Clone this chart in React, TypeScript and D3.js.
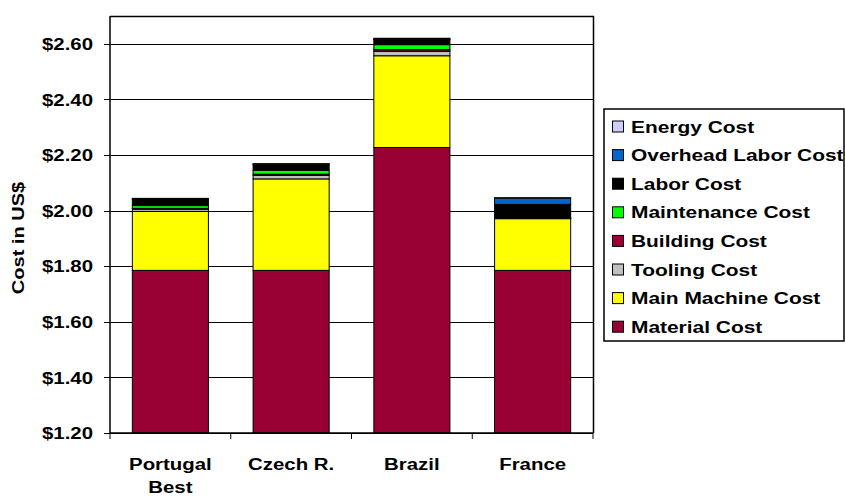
import React from "react";
import * as d3 from "d3";

// Countries along the category axis (line breaks split multi-line labels)
const categories = ["Portugal\nBest", "Czech R.", "Brazil", "France"];

// Cost components in US$, stacked bottom to top
const materialCost = [1.785, 1.785, 2.227, 1.785];
const mainMachineCost = [0.212, 0.329, 0.33, 0.186];
const toolingCost = [0.008, 0.013, 0.016, 0.001];
const buildingCost = [0.003, 0.004, 0.006, 0.0005];
const maintenanceCost = [0.01, 0.014, 0.018, 0.001];
const laborCost = [0.022, 0.02, 0.018, 0.049];
const overheadLaborCost = [0.002, 0.002, 0.002, 0.022];
const energyCost = [0.002, 0.002, 0.003, 0.002];

const seriesNames = [
  "Material Cost",
  "Main Machine Cost",
  "Tooling Cost",
  "Building Cost",
  "Maintenance Cost",
  "Labor Cost",
  "Overhead Labor Cost",
  "Energy Cost",
];
const seriesValues = [
  materialCost,
  mainMachineCost,
  toolingCost,
  buildingCost,
  maintenanceCost,
  laborCost,
  overheadLaborCost,
  energyCost,
];
const seriesColors = [
  "#990033",
  "#FFFF00",
  "#C0C0C0",
  "#990033",
  "#00FF00",
  "#000000",
  "#0066CC",
  "#CCCCFF",
];

const yTicks = [1.2, 1.4, 1.6, 1.8, 2.0, 2.2, 2.4, 2.6];
const yTitle = "Cost in US$";

const W = 845;
const H = 498;
const plot = { left: 110, right: 593, top: 16, bottom: 433 };
const FONT = "'Liberation Sans', Arial, Helvetica, sans-serif";
const STRETCH = 1.2;
const LEGEND_STRETCH = 1.23;

export default function App() {
  const rows = categories.map((c, i) => {
    const r: Record<string, number | string> = { category: c };
    seriesNames.forEach((s, k) => (r[s] = seriesValues[k][i]));
    return r;
  });

  const stack = d3.stack<Record<string, number | string>>().keys(seriesNames);
  const layers = stack(rows as any);

  const x = d3
    .scaleBand<string>()
    .domain(categories)
    .range([plot.left, plot.right])
    .paddingInner(0.37)
    .paddingOuter(0.185);
  const yMin = 1.2;
  const y = d3.scaleLinear().domain([yMin, 2.7]).range([plot.bottom, plot.top]);

  const step = x.step();
  const boundaries = d3.range(categories.length + 1).map((i) => plot.left + i * step);

  const legendX = 604;
  const legendY = 109;
  const legendW = 240;
  const legendH = 232;
  const rowH = 28.6;
  const legendOrder = [...seriesNames.map((n, i) => i)].reverse();

  return (
    <svg
      width={W}
      height={H}
      style={{ position: "absolute", left: 0, top: 0, background: "#fff" }}
      fontFamily={FONT}
      fontWeight="bold"
    >
      <rect x={0} y={0} width={W} height={H} fill="#fff" />

      {/* gridlines */}
      {yTicks.map((t) => (
        <line
          key={"g" + t}
          x1={plot.left}
          x2={plot.right}
          y1={Math.round(y(t)) + 0.5}
          y2={Math.round(y(t)) + 0.5}
          stroke="#000"
          strokeWidth={1}
        />
      ))}

      {/* plot frame (top and right) */}
      <path
        d={`M${plot.left},${plot.top + 0.5}H${plot.right + 0.5}V${plot.bottom}`}
        fill="none"
        stroke="#000"
        strokeWidth={1.5}
      />

      {/* stacked bars, clipped at the axis minimum */}
      {layers.map((layer, k) => (
        <g key={seriesNames[k]}>
          {layer.map((d, i) => {
            const y0 = y(Math.max(d[0], yMin));
            const y1 = y(Math.max(d[1], yMin));
            return (
              <rect
                key={i}
                x={x(categories[i])!}
                y={y1}
                width={x.bandwidth()}
                height={Math.max(0, y0 - y1)}
                fill={seriesColors[k]}
                stroke="#000"
                strokeWidth={1}
              />
            );
          })}
        </g>
      ))}

      {/* axes */}
      <line x1={plot.left} x2={plot.left} y1={plot.top} y2={plot.bottom} stroke="#000" strokeWidth={1.5} />
      <line x1={plot.left} x2={plot.right} y1={plot.bottom} y2={plot.bottom} stroke="#000" strokeWidth={1.5} />
      {yTicks.map((t) => (
        <g key={"t" + t}>
          <line
            x1={plot.left - 6}
            x2={plot.left}
            y1={Math.round(y(t)) + 0.5}
            y2={Math.round(y(t)) + 0.5}
            stroke="#000"
            strokeWidth={1}
          />
          <text
            transform={`translate(93,${y(t)}) scale(${STRETCH},1)`}
            textAnchor="end"
            dy="0.36em"
            fontSize={17}
            fill="#000"
          >
            {d3.format("$.2f")(t)}
          </text>
        </g>
      ))}
      {boundaries.map((b, i) => (
        <line key={"xt" + i} x1={b} x2={b} y1={plot.bottom} y2={plot.bottom + 6} stroke="#000" strokeWidth={1} />
      ))}
      {categories.map((c) => {
        const cx = x(c)! + x.bandwidth() / 2;
        return (
          <g key={"c" + c}>
            {c.split("\n").map((line, li) => (
              <text
                key={li}
                transform={`translate(${cx},${470 + li * 23}) scale(${STRETCH},1)`}
                textAnchor="middle"
                fontSize={17}
                fill="#000"
              >
                {line}
              </text>
            ))}
          </g>
        );
      })}

      {/* y axis title */}
      <text
        transform={`translate(24,238) rotate(-90) scale(1.18,1)`}
        textAnchor="middle"
        fontSize={17}
        fill="#000"
      >
        {yTitle}
      </text>

      {/* legend */}
      <rect
        x={legendX}
        y={legendY}
        width={legendW}
        height={legendH}
        fill="#fff"
        stroke="#000"
        strokeWidth={1.5}
      />
      {legendOrder.map((k, r) => {
        const cy = legendY + 17.5 + r * rowH;
        return (
          <g key={"l" + k}>
            <rect x={612.5} y={cy - 5.5} width={11} height={11} fill={seriesColors[k]} stroke="#000" strokeWidth={1} />
            <text
              transform={`translate(631,${cy}) scale(${LEGEND_STRETCH},1)`}
              dy="0.36em"
              fontSize={17}
              fill="#000"
            >
              {seriesNames[k]}
            </text>
          </g>
        );
      })}
    </svg>
  );
}
